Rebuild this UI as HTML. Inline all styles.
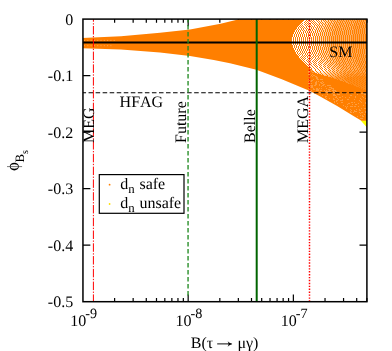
<!DOCTYPE html><html><head><meta charset="utf-8"><style>html,body{margin:0;padding:0;background:#fff;}svg{display:block;}text{font-family:"Liberation Serif",serif;fill:#000;font-kerning:none;text-rendering:geometricPrecision;}</style></head><body>
<svg width="392" height="351" viewBox="0 0 392 351">
<rect width="392" height="351" fill="#fff"/>
<defs><filter id="idf" x="0" y="0" width="392" height="351" filterUnits="userSpaceOnUse"><feOffset dx="0" dy="0"/></filter></defs>
<defs><clipPath id="pc"><rect x="82.95" y="19.1" width="283.95" height="282.59999999999997"/></clipPath></defs>
<path d="M114.62 301.7v-3.6M114.62 19.1v3.6M133.15 301.7v-3.6M133.15 19.1v3.6M146.29 301.7v-3.6M146.29 19.1v3.6M156.49 301.7v-3.6M156.49 19.1v3.6M164.82 301.7v-3.6M164.82 19.1v3.6M171.86 301.7v-3.6M171.86 19.1v3.6M177.96 301.7v-3.6M177.96 19.1v3.6M183.34 301.7v-3.6M183.34 19.1v3.6M188.16 301.7v-7.2M188.16 19.1v7.2M219.83 301.7v-3.6M219.83 19.1v3.6M238.35 301.7v-3.6M238.35 19.1v3.6M251.50 301.7v-3.6M251.50 19.1v3.6M261.69 301.7v-3.6M261.69 19.1v3.6M270.02 301.7v-3.6M270.02 19.1v3.6M277.07 301.7v-3.6M277.07 19.1v3.6M283.17 301.7v-3.6M283.17 19.1v3.6M288.55 301.7v-3.6M288.55 19.1v3.6M293.36 301.7v-7.2M293.36 19.1v7.2M325.03 301.7v-3.6M325.03 19.1v3.6M343.56 301.7v-3.6M343.56 19.1v3.6M356.70 301.7v-3.6M356.70 19.1v3.6M366.90 301.7v-3.6M366.90 19.1v3.6M82.95 75.62h7.4M366.9 75.62h-7.4M82.95 132.14h7.4M366.9 132.14h-7.4M82.95 188.66h7.4M366.9 188.66h-7.4M82.95 245.18h7.4M366.9 245.18h-7.4" stroke="#000" stroke-width="1.2" fill="none"/>
<g clip-path="url(#pc)">
<polygon points="360.5,120.2 367,120.2 367,127.6" fill="#ffff00"/>
<polygon points="82,38 121,36.3 160,32.7 190,29.5 220.6,23.8 239,19.2 367,19.2 367,120.8 361.5,120.8 355.1,117.1 336.7,105.7 318.4,95.4 310,91.0 281.8,79.3 256.4,69.8 230,63.2 213.8,59.9 190,55.9 160,52.4 121,49.6 82,48.2" fill="#ff7f00"/>
<path d="M356 76.5h1M357 76.5h1M359 76.5h1M360 76.5h1M362 76.5h1M364 76.5h1M365 76.5h1M347 77.5h1M349 77.5h1M350 77.5h1M352 77.5h1M353 77.5h1M355 77.5h1M356 77.5h1M358 77.5h1M359 77.5h1M361 77.5h1M363 77.5h1M364 77.5h1M366 77.5h1M345 78.5h1M346 78.5h1M348 78.5h1M349 78.5h1M351 78.5h1M352 78.5h1M354 78.5h1M355 78.5h1M357 78.5h1M358 78.5h1M360 78.5h1M362 78.5h1M363 78.5h1M365 78.5h1M366 78.5h1M346 79.5h1M347 79.5h1M349 79.5h1M350 79.5h1M352 79.5h1M353 79.5h1M355 79.5h1M356 79.5h1M358 79.5h1M359 79.5h1M361 79.5h1M362 79.5h1M364 79.5h1M365 79.5h1M347 80.5h1M348 80.5h1M349 80.5h1M351 80.5h1M352 80.5h1M354 80.5h1M355 80.5h1M357 80.5h1M358 80.5h1M360 80.5h1M361 80.5h1M363 80.5h1M364 80.5h1M366 80.5h1M347 81.5h1M349 81.5h1M350 81.5h1M352 81.5h1M353 81.5h1M355 81.5h1M356 81.5h1M358 81.5h1M359 81.5h1M361 81.5h1M362 81.5h1M364 81.5h1M365 81.5h1M348 82.5h1M350 82.5h1M351 82.5h1M352 82.5h1M354 82.5h1M355 82.5h1M357 82.5h1M358 82.5h1M360 82.5h1M361 82.5h1M363 82.5h1M364 82.5h1M366 82.5h1M349 83.5h1M350 83.5h1M352 83.5h1M353 83.5h1M355 83.5h1M356 83.5h1M358 83.5h1M359 83.5h1M360 83.5h1M362 83.5h1M363 83.5h1M365 83.5h1M366 83.5h1M351 84.5h1M353 84.5h1M354 84.5h1M355 84.5h1M357 84.5h1M358 84.5h1M360 84.5h1M361 84.5h1M363 84.5h1M364 84.5h1M366 84.5h1M354 85.5h1M355 85.5h1M356 85.5h1M358 85.5h1M359 85.5h1M360 85.5h1M362 85.5h1M363 85.5h1M365 85.5h1M366 85.5h1M356 86.5h1M357 86.5h1M358 86.5h1M360 86.5h1M361 86.5h1M363 86.5h1M364 86.5h1M365 86.5h1M359 87.5h1M361 87.5h1M362 87.5h1M363 87.5h1M365 87.5h1M366 87.5h1M361 88.5h1M363 88.5h1M364 88.5h1M365 88.5h1M363 89.5h1M365 89.5h1M366 89.5h1M366 90.5h1" stroke="#fff" stroke-opacity="0.1" stroke-width="1.0" fill="none" shape-rendering="crispEdges"/>
<path d="M357 73.5h1M359 73.5h1M360 73.5h1M362 73.5h1M364 73.5h1M365 73.5h1M346 74.5h1M348 74.5h1M349 74.5h1M351 74.5h1M353 74.5h1M354 74.5h1M356 74.5h1M358 74.5h1M359 74.5h1M361 74.5h1M362 74.5h1M364 74.5h1M366 74.5h1M345 75.5h1M347 75.5h1M349 75.5h1M350 75.5h1M352 75.5h1M353 75.5h1M355 75.5h1M357 75.5h1M358 75.5h1M360 75.5h1M361 75.5h1M363 75.5h1M365 75.5h1M366 75.5h1M342 76.5h1M343 76.5h1M345 76.5h1M346 76.5h1M348 76.5h1M349 76.5h1M351 76.5h1M352 76.5h1M354 76.5h1M337 77.5h1M338 77.5h1M340 77.5h1M341 77.5h1M343 77.5h1M344 77.5h1M346 77.5h1M334 78.5h1M335 78.5h1M336 78.5h1M338 78.5h1M339 78.5h1M341 78.5h1M342 78.5h1M343 78.5h1M337 79.5h1M339 79.5h1M340 79.5h1M341 79.5h1M343 79.5h1M344 79.5h1M340 80.5h1M341 80.5h1M342 80.5h1M344 80.5h1M345 80.5h1M343 81.5h1M345 81.5h1M346 81.5h1M346 82.5h1M347 82.5h1M348 83.5h1" stroke="#fff" stroke-opacity="0.2" stroke-width="1.0" fill="none" shape-rendering="crispEdges"/>
<path d="M357 19.5h1M359 19.5h1M361 19.5h1M362 19.5h1M364 19.5h1M366 19.5h1M356 20.5h1M358 20.5h1M360 20.5h1M362 20.5h1M364 20.5h1M366 20.5h1M356 21.5h1M358 21.5h1M360 21.5h1M362 21.5h1M364 21.5h1M365 21.5h1M356 22.5h1M358 22.5h1M359 22.5h1M361 22.5h1M363 22.5h1M365 22.5h1M355 23.5h1M357 23.5h1M359 23.5h1M361 23.5h1M363 23.5h1M365 23.5h1M355 24.5h1M357 24.5h1M359 24.5h1M361 24.5h1M363 24.5h1M364 24.5h1M366 24.5h1M355 25.5h1M357 25.5h1M358 25.5h1M360 25.5h1M362 25.5h1M364 25.5h1M366 25.5h1M354 26.5h1M356 26.5h1M358 26.5h1M360 26.5h1M362 26.5h1M364 26.5h1M366 26.5h1M354 27.5h1M356 27.5h1M358 27.5h1M360 27.5h1M362 27.5h1M364 27.5h1M366 27.5h1M354 28.5h1M356 28.5h1M358 28.5h1M360 28.5h1M361 28.5h1M363 28.5h1M365 28.5h1M353 29.5h1M355 29.5h1M357 29.5h1M359 29.5h1M361 29.5h1M363 29.5h1M365 29.5h1M353 30.5h1M355 30.5h1M357 30.5h1M359 30.5h1M361 30.5h1M363 30.5h1M365 30.5h1M353 31.5h1M355 31.5h1M357 31.5h1M359 31.5h1M361 31.5h1M363 31.5h1M365 31.5h1M353 32.5h1M355 32.5h1M357 32.5h1M359 32.5h1M361 32.5h1M363 32.5h1M365 32.5h1M353 33.5h1M355 33.5h1M357 33.5h1M359 33.5h1M361 33.5h1M363 33.5h1M365 33.5h1M352 34.5h1M354 34.5h1M356 34.5h1M358 34.5h1M360 34.5h1M362 34.5h1M364 34.5h1M366 34.5h1M352 35.5h1M354 35.5h1M356 35.5h1M358 35.5h1M360 35.5h1M362 35.5h1M364 35.5h1M366 35.5h1M352 36.5h1M354 36.5h1M356 36.5h1M358 36.5h1M360 36.5h1M362 36.5h1M364 36.5h1M366 36.5h1M352 37.5h1M354 37.5h1M356 37.5h1M358 37.5h1M360 37.5h1M362 37.5h1M364 37.5h1M366 37.5h1M352 38.5h1M354 38.5h1M356 38.5h1M358 38.5h1M360 38.5h1M362 38.5h1M364 38.5h1M366 38.5h1M352 39.5h1M354 39.5h1M356 39.5h1M358 39.5h1M360 39.5h1M362 39.5h1M364 39.5h1M366 39.5h1M352 40.5h1M354 40.5h1M356 40.5h1M358 40.5h1M360 40.5h1M362 40.5h1M364 40.5h1M366 40.5h1M352 41.5h1M354 41.5h1M356 41.5h1M358 41.5h1M360 41.5h1M362 41.5h1M364 41.5h1M366 41.5h1M352 42.5h1M354 42.5h1M356 42.5h1M358 42.5h1M360 42.5h1M362 42.5h1M364 42.5h1M366 42.5h1M352 43.5h1M354 43.5h1M356 43.5h1M358 43.5h1M360 43.5h1M362 43.5h1M364 43.5h1M366 43.5h1M352 44.5h1M354 44.5h1M356 44.5h1M358 44.5h1M360 44.5h1M362 44.5h1M364 44.5h1M366 44.5h1M352 45.5h1M354 45.5h1M356 45.5h1M358 45.5h1M360 45.5h1M362 45.5h1M364 45.5h1M366 45.5h1M352 46.5h1M354 46.5h1M356 46.5h1M358 46.5h1M360 46.5h1M362 46.5h1M364 46.5h1M366 46.5h1M352 47.5h1M354 47.5h1M356 47.5h1M358 47.5h1M360 47.5h1M362 47.5h1M364 47.5h1M366 47.5h1M353 48.5h1M355 48.5h1M357 48.5h1M358 48.5h1M360 48.5h1M362 48.5h1M364 48.5h1M366 48.5h1M353 49.5h1M355 49.5h1M357 49.5h1M359 49.5h1M361 49.5h1M363 49.5h1M365 49.5h1M353 50.5h1M355 50.5h1M357 50.5h1M359 50.5h1M361 50.5h1M363 50.5h1M365 50.5h1M353 51.5h1M355 51.5h1M357 51.5h1M359 51.5h1M361 51.5h1M363 51.5h1M365 51.5h1M353 52.5h1M355 52.5h1M357 52.5h1M359 52.5h1M361 52.5h1M363 52.5h1M365 52.5h1M354 53.5h1M356 53.5h1M357 53.5h1M359 53.5h1M361 53.5h1M363 53.5h1M365 53.5h1M354 54.5h1M356 54.5h1M358 54.5h1M360 54.5h1M362 54.5h1M364 54.5h1M365 54.5h1M354 55.5h1M356 55.5h1M358 55.5h1M360 55.5h1M362 55.5h1M364 55.5h1M366 55.5h1M354 56.5h1M356 56.5h1M358 56.5h1M360 56.5h1M362 56.5h1M364 56.5h1M366 56.5h1M355 57.5h1M357 57.5h1M359 57.5h1M360 57.5h1M362 57.5h1M364 57.5h1M366 57.5h1M355 58.5h1M357 58.5h1M359 58.5h1M361 58.5h1M363 58.5h1M365 58.5h1M366 58.5h1M355 59.5h1M357 59.5h1M359 59.5h1M361 59.5h1M363 59.5h1M365 59.5h1M356 60.5h1M358 60.5h1M360 60.5h1M361 60.5h1M363 60.5h1M365 60.5h1M356 61.5h1M358 61.5h1M360 61.5h1M362 61.5h1M364 61.5h1M366 61.5h1M357 62.5h1M358 62.5h1M360 62.5h1M362 62.5h1M364 62.5h1M366 62.5h1M357 63.5h1M359 63.5h1M361 63.5h1M363 63.5h1M364 63.5h1M366 63.5h1M357 64.5h1M359 64.5h1M361 64.5h1M363 64.5h1M365 64.5h1M358 65.5h1M360 65.5h1M362 65.5h1M363 65.5h1M365 65.5h1M358 66.5h1M360 66.5h1M362 66.5h1M364 66.5h1M366 66.5h1M359 67.5h1M361 67.5h1M362 67.5h1M364 67.5h1M366 67.5h1M359 68.5h1M361 68.5h1M363 68.5h1M365 68.5h1M366 68.5h1M360 69.5h1M362 69.5h1M363 69.5h1M365 69.5h1M355 70.5h1M357 70.5h1M359 70.5h1M360 70.5h1M362 70.5h1M364 70.5h1M366 70.5h1M347 71.5h1M349 71.5h1M351 71.5h1M352 71.5h1M354 71.5h1M356 71.5h1M357 71.5h1M359 71.5h1M361 71.5h1M363 71.5h1M364 71.5h1M366 71.5h1M345 72.5h1M346 72.5h1M348 72.5h1M350 72.5h1M351 72.5h1M353 72.5h1M355 72.5h1M356 72.5h1M358 72.5h1M360 72.5h1M361 72.5h1M363 72.5h1M365 72.5h1M342 73.5h1M344 73.5h1M346 73.5h1M347 73.5h1M349 73.5h1M350 73.5h1M352 73.5h1M354 73.5h1M355 73.5h1M342 74.5h1M343 74.5h1M345 74.5h1M338 75.5h1M339 75.5h1M341 75.5h1M342 75.5h1M344 75.5h1M334 76.5h1M336 76.5h1M337 76.5h1M339 76.5h1M340 76.5h1M331 77.5h1M333 77.5h1M334 77.5h1M335 77.5h1" stroke="#fff" stroke-opacity="0.3" stroke-width="1.0" fill="none" shape-rendering="crispEdges"/>
<path d="M339 19.5h1M340 19.5h1M342 19.5h1M344 19.5h1M346 19.5h1M348 19.5h1M350 19.5h1M351 19.5h1M353 19.5h1M355 19.5h1M338 20.5h1M340 20.5h1M342 20.5h1M344 20.5h1M345 20.5h1M347 20.5h1M349 20.5h1M351 20.5h1M353 20.5h1M355 20.5h1M338 21.5h1M339 21.5h1M341 21.5h1M343 21.5h1M345 21.5h1M347 21.5h1M349 21.5h1M350 21.5h1M352 21.5h1M354 21.5h1M337 22.5h1M339 22.5h1M341 22.5h1M343 22.5h1M344 22.5h1M346 22.5h1M348 22.5h1M350 22.5h1M352 22.5h1M354 22.5h1M337 23.5h1M338 23.5h1M340 23.5h1M342 23.5h1M344 23.5h1M346 23.5h1M348 23.5h1M350 23.5h1M352 23.5h1M353 23.5h1M336 24.5h1M338 24.5h1M340 24.5h1M342 24.5h1M344 24.5h1M345 24.5h1M347 24.5h1M349 24.5h1M351 24.5h1M353 24.5h1M336 25.5h1M338 25.5h1M339 25.5h1M341 25.5h1M343 25.5h1M345 25.5h1M347 25.5h1M349 25.5h1M351 25.5h1M353 25.5h1M335 26.5h1M337 26.5h1M339 26.5h1M341 26.5h1M343 26.5h1M345 26.5h1M347 26.5h1M349 26.5h1M350 26.5h1M352 26.5h1M335 27.5h1M337 27.5h1M339 27.5h1M341 27.5h1M342 27.5h1M344 27.5h1M346 27.5h1M348 27.5h1M350 27.5h1M352 27.5h1M334 28.5h1M336 28.5h1M338 28.5h1M340 28.5h1M342 28.5h1M344 28.5h1M346 28.5h1M348 28.5h1M350 28.5h1M352 28.5h1M334 29.5h1M336 29.5h1M338 29.5h1M340 29.5h1M342 29.5h1M344 29.5h1M346 29.5h1M348 29.5h1M350 29.5h1M352 29.5h1M334 30.5h1M336 30.5h1M338 30.5h1M340 30.5h1M342 30.5h1M343 30.5h1M345 30.5h1M347 30.5h1M349 30.5h1M351 30.5h1M333 31.5h1M335 31.5h1M337 31.5h1M339 31.5h1M341 31.5h1M343 31.5h1M345 31.5h1M347 31.5h1M349 31.5h1M351 31.5h1M333 32.5h1M335 32.5h1M337 32.5h1M339 32.5h1M341 32.5h1M343 32.5h1M345 32.5h1M347 32.5h1M349 32.5h1M351 32.5h1M333 33.5h1M335 33.5h1M337 33.5h1M339 33.5h1M341 33.5h1M343 33.5h1M345 33.5h1M347 33.5h1M349 33.5h1M351 33.5h1M333 34.5h1M335 34.5h1M337 34.5h1M339 34.5h1M341 34.5h1M343 34.5h1M345 34.5h1M347 34.5h1M349 34.5h1M351 34.5h1M333 35.5h1M334 35.5h1M336 35.5h1M338 35.5h1M340 35.5h1M342 35.5h1M344 35.5h1M346 35.5h1M348 35.5h1M350 35.5h1M332 36.5h1M334 36.5h1M336 36.5h1M338 36.5h1M340 36.5h1M342 36.5h1M344 36.5h1M346 36.5h1M348 36.5h1M350 36.5h1M332 37.5h1M334 37.5h1M336 37.5h1M338 37.5h1M340 37.5h1M342 37.5h1M344 37.5h1M346 37.5h1M348 37.5h1M350 37.5h1M332 38.5h1M334 38.5h1M336 38.5h1M338 38.5h1M340 38.5h1M342 38.5h1M344 38.5h1M346 38.5h1M348 38.5h1M350 38.5h1M332 39.5h1M334 39.5h1M336 39.5h1M338 39.5h1M340 39.5h1M342 39.5h1M344 39.5h1M346 39.5h1M348 39.5h1M350 39.5h1M332 40.5h1M334 40.5h1M336 40.5h1M338 40.5h1M340 40.5h1M342 40.5h1M344 40.5h1M346 40.5h1M348 40.5h1M350 40.5h1M332 41.5h1M334 41.5h1M336 41.5h1M338 41.5h1M340 41.5h1M342 41.5h1M344 41.5h1M346 41.5h1M348 41.5h1M350 41.5h1M332 42.5h1M334 42.5h1M336 42.5h1M338 42.5h1M340 42.5h1M342 42.5h1M344 42.5h1M346 42.5h1M348 42.5h1M350 42.5h1M332 43.5h1M334 43.5h1M336 43.5h1M338 43.5h1M340 43.5h1M342 43.5h1M344 43.5h1M346 43.5h1M348 43.5h1M350 43.5h1M332 44.5h1M334 44.5h1M336 44.5h1M338 44.5h1M340 44.5h1M342 44.5h1M344 44.5h1M346 44.5h1M348 44.5h1M350 44.5h1M332 45.5h1M334 45.5h1M336 45.5h1M338 45.5h1M340 45.5h1M342 45.5h1M344 45.5h1M346 45.5h1M348 45.5h1M350 45.5h1M332 46.5h1M334 46.5h1M336 46.5h1M338 46.5h1M340 46.5h1M342 46.5h1M344 46.5h1M346 46.5h1M348 46.5h1M350 46.5h1M333 47.5h1M335 47.5h1M337 47.5h1M339 47.5h1M341 47.5h1M342 47.5h1M344 47.5h1M346 47.5h1M348 47.5h1M350 47.5h1M333 48.5h1M335 48.5h1M337 48.5h1M339 48.5h1M341 48.5h1M343 48.5h1M345 48.5h1M347 48.5h1M349 48.5h1M351 48.5h1M333 49.5h1M335 49.5h1M337 49.5h1M339 49.5h1M341 49.5h1M343 49.5h1M345 49.5h1M347 49.5h1M349 49.5h1M351 49.5h1M333 50.5h1M335 50.5h1M337 50.5h1M339 50.5h1M341 50.5h1M343 50.5h1M345 50.5h1M347 50.5h1M349 50.5h1M351 50.5h1M334 51.5h1M336 51.5h1M337 51.5h1M339 51.5h1M341 51.5h1M343 51.5h1M345 51.5h1M347 51.5h1M349 51.5h1M351 51.5h1M334 52.5h1M336 52.5h1M338 52.5h1M340 52.5h1M342 52.5h1M344 52.5h1M346 52.5h1M347 52.5h1M349 52.5h1M351 52.5h1M334 53.5h1M336 53.5h1M338 53.5h1M340 53.5h1M342 53.5h1M344 53.5h1M346 53.5h1M348 53.5h1M350 53.5h1M352 53.5h1M335 54.5h1M336 54.5h1M338 54.5h1M340 54.5h1M342 54.5h1M344 54.5h1M346 54.5h1M348 54.5h1M350 54.5h1M352 54.5h1M335 55.5h1M337 55.5h1M339 55.5h1M341 55.5h1M343 55.5h1M345 55.5h1M346 55.5h1M348 55.5h1M350 55.5h1M352 55.5h1M335 56.5h1M337 56.5h1M339 56.5h1M341 56.5h1M343 56.5h1M345 56.5h1M347 56.5h1M349 56.5h1M351 56.5h1M352 56.5h1M336 57.5h1M338 57.5h1M340 57.5h1M341 57.5h1M343 57.5h1M345 57.5h1M347 57.5h1M349 57.5h1M351 57.5h1M353 57.5h1M336 58.5h1M338 58.5h1M340 58.5h1M342 58.5h1M344 58.5h1M346 58.5h1M348 58.5h1M349 58.5h1M351 58.5h1M353 58.5h1M337 59.5h1M339 59.5h1M340 59.5h1M342 59.5h1M344 59.5h1M346 59.5h1M348 59.5h1M350 59.5h1M352 59.5h1M354 59.5h1M337 60.5h1M339 60.5h1M341 60.5h1M343 60.5h1M345 60.5h1M346 60.5h1M348 60.5h1M350 60.5h1M352 60.5h1M354 60.5h1M338 61.5h1M340 61.5h1M341 61.5h1M343 61.5h1M345 61.5h1M347 61.5h1M349 61.5h1M351 61.5h1M352 61.5h1M354 61.5h1M338 62.5h1M340 62.5h1M342 62.5h1M344 62.5h1M346 62.5h1M347 62.5h1M349 62.5h1M351 62.5h1M353 62.5h1M355 62.5h1M339 63.5h1M341 63.5h1M342 63.5h1M344 63.5h1M346 63.5h1M348 63.5h1M350 63.5h1M352 63.5h1M353 63.5h1M355 63.5h1M340 64.5h1M341 64.5h1M343 64.5h1M345 64.5h1M347 64.5h1M348 64.5h1M350 64.5h1M352 64.5h1M354 64.5h1M356 64.5h1M340 65.5h1M342 65.5h1M344 65.5h1M345 65.5h1M347 65.5h1M349 65.5h1M351 65.5h1M352 65.5h1M354 65.5h1M356 65.5h1M341 66.5h1M342 66.5h1M344 66.5h1M346 66.5h1M348 66.5h1M349 66.5h1M351 66.5h1M353 66.5h1M355 66.5h1M357 66.5h1M341 67.5h1M343 67.5h1M345 67.5h1M347 67.5h1M348 67.5h1M350 67.5h1M352 67.5h1M354 67.5h1M355 67.5h1M357 67.5h1M342 68.5h1M344 68.5h1M345 68.5h1M347 68.5h1M349 68.5h1M351 68.5h1M352 68.5h1M354 68.5h1M356 68.5h1M358 68.5h1M343 69.5h1M344 69.5h1M346 69.5h1M348 69.5h1M349 69.5h1M351 69.5h1M353 69.5h1M355 69.5h1M356 69.5h1M358 69.5h1M342 70.5h1M343 70.5h1M345 70.5h1M347 70.5h1M348 70.5h1M350 70.5h1M352 70.5h1M353 70.5h1M341 71.5h1M342 71.5h1M344 71.5h1M346 71.5h1M340 72.5h1M342 72.5h1M343 72.5h1M338 73.5h1M339 73.5h1M341 73.5h1M336 74.5h1M337 74.5h1M339 74.5h1M340 74.5h1M332 75.5h1M334 75.5h1M335 75.5h1M336 75.5h1M328 76.5h1M329 76.5h1M330 76.5h1M332 76.5h1M333 76.5h1" stroke="#fff" stroke-opacity="0.4" stroke-width="1.0" fill="none" shape-rendering="crispEdges"/>
<path d="M335 19.5h1M337 19.5h1M335 20.5h1M336 20.5h1M334 21.5h1M336 21.5h1M333 22.5h1M335 22.5h1M333 23.5h1M335 23.5h1M332 24.5h1M334 24.5h1M332 25.5h1M334 25.5h1M331 26.5h1M333 26.5h1M331 27.5h1M333 27.5h1M331 28.5h1M333 28.5h1M330 29.5h1M332 29.5h1M330 30.5h1M332 30.5h1M330 31.5h1M331 31.5h1M329 32.5h1M331 32.5h1M329 33.5h1M331 33.5h1M329 34.5h1M331 34.5h1M329 35.5h1M331 35.5h1M328 36.5h1M330 36.5h1M328 37.5h1M330 37.5h1M328 38.5h1M330 38.5h1M328 39.5h1M330 39.5h1M328 40.5h1M330 40.5h1M328 41.5h1M330 41.5h1M328 42.5h1M330 42.5h1M328 43.5h1M330 43.5h1M328 44.5h1M330 44.5h1M328 45.5h1M330 45.5h1M328 46.5h1M330 46.5h1M329 47.5h1M331 47.5h1M329 48.5h1M331 48.5h1M329 49.5h1M331 49.5h1M329 50.5h1M331 50.5h1M330 51.5h1M332 51.5h1M330 52.5h1M332 52.5h1M330 53.5h1M332 53.5h1M331 54.5h1M333 54.5h1M331 55.5h1M333 55.5h1M332 56.5h1M333 56.5h1M332 57.5h1M334 57.5h1M333 58.5h1M334 58.5h1M333 59.5h1M335 59.5h1M334 60.5h1M335 60.5h1M334 61.5h1M336 61.5h1M335 62.5h1M337 62.5h1M335 63.5h1M337 63.5h1M336 64.5h1M338 64.5h1M337 65.5h1M338 65.5h1M337 66.5h1M339 66.5h1M338 67.5h1M340 67.5h1M339 68.5h1M340 68.5h1M339 69.5h1M341 69.5h1M339 70.5h1M340 70.5h1M338 71.5h1M339 71.5h1M335 72.5h1M337 72.5h1M338 72.5h1M333 73.5h1M335 73.5h1M336 73.5h1M331 74.5h1M333 74.5h1M334 74.5h1M324 75.5h1M325 75.5h1M326 75.5h1M328 75.5h1M329 75.5h1M331 75.5h1" stroke="#fff" stroke-opacity="0.5" stroke-width="1.0" fill="none" shape-rendering="crispEdges"/>
<path d="M332 19.5h1M333 19.5h1M331 20.5h1M333 20.5h1M330 21.5h1M332 21.5h1M330 22.5h1M332 22.5h1M329 23.5h1M331 23.5h1M329 24.5h1M331 24.5h1M328 25.5h1M330 25.5h1M328 26.5h1M330 26.5h1M327 27.5h1M329 27.5h1M327 28.5h1M329 28.5h1M326 29.5h1M328 29.5h1M326 30.5h1M328 30.5h1M326 31.5h1M328 31.5h1M325 32.5h1M327 32.5h1M325 33.5h1M327 33.5h1M325 34.5h1M327 34.5h1M325 35.5h1M327 35.5h1M324 36.5h1M326 36.5h1M324 37.5h1M326 37.5h1M324 38.5h1M326 38.5h1M324 39.5h1M326 39.5h1M324 40.5h1M326 40.5h1M324 41.5h1M326 41.5h1M324 42.5h1M326 42.5h1M324 43.5h1M326 43.5h1M324 44.5h1M326 44.5h1M324 45.5h1M326 45.5h1M324 46.5h1M326 46.5h1M325 47.5h1M327 47.5h1M325 48.5h1M327 48.5h1M325 49.5h1M327 49.5h1M325 50.5h1M327 50.5h1M326 51.5h1M328 51.5h1M326 52.5h1M328 52.5h1M327 53.5h1M328 53.5h1M327 54.5h1M329 54.5h1M327 55.5h1M329 55.5h1M328 56.5h1M330 56.5h1M328 57.5h1M330 57.5h1M329 58.5h1M331 58.5h1M329 59.5h1M331 59.5h1M330 60.5h1M332 60.5h1M331 61.5h1M332 61.5h1M331 62.5h1M333 62.5h1M332 63.5h1M334 63.5h1M333 64.5h1M334 64.5h1M333 65.5h1M335 65.5h1M334 66.5h1M336 66.5h1M335 67.5h1M336 67.5h1M335 68.5h1M337 68.5h1M336 69.5h1M338 69.5h1M335 70.5h1M337 70.5h1M335 71.5h1M336 71.5h1M332 72.5h1M334 72.5h1M329 73.5h1M330 73.5h1M332 73.5h1M321 74.5h1M323 74.5h1M324 74.5h1M325 74.5h1M327 74.5h1M328 74.5h1M330 74.5h1" stroke="#fff" stroke-opacity="0.6" stroke-width="1.0" fill="none" shape-rendering="crispEdges"/>
<path d="M328 19.5h1M330 19.5h1M327 20.5h1M329 20.5h1M327 21.5h1M329 21.5h1M326 22.5h1M328 22.5h1M326 23.5h1M327 23.5h1M325 24.5h1M327 24.5h1M324 25.5h1M326 25.5h1M324 26.5h1M326 26.5h1M323 27.5h1M325 27.5h1M323 28.5h1M325 28.5h1M323 29.5h1M324 29.5h1M322 30.5h1M324 30.5h1M322 31.5h1M324 31.5h1M321 32.5h1M323 32.5h1M321 33.5h1M323 33.5h1M321 34.5h1M323 34.5h1M321 35.5h1M323 35.5h1M320 36.5h1M322 36.5h1M320 37.5h1M322 37.5h1M320 38.5h1M322 38.5h1M320 39.5h1M322 39.5h1M320 40.5h1M322 40.5h1M320 41.5h1M322 41.5h1M320 42.5h1M322 42.5h1M320 43.5h1M322 43.5h1M320 44.5h1M322 44.5h1M320 45.5h1M322 45.5h1M321 46.5h1M322 46.5h1M321 47.5h1M323 47.5h1M321 48.5h1M323 48.5h1M321 49.5h1M323 49.5h1M322 50.5h1M324 50.5h1M322 51.5h1M324 51.5h1M322 52.5h1M324 52.5h1M323 53.5h1M325 53.5h1M323 54.5h1M325 54.5h1M324 55.5h1M326 55.5h1M324 56.5h1M326 56.5h1M325 57.5h1M327 57.5h1M325 58.5h1M327 58.5h1M326 59.5h1M328 59.5h1M326 60.5h1M328 60.5h1M327 61.5h1M329 61.5h1M328 62.5h1M329 62.5h1M328 63.5h1M330 63.5h1M329 64.5h1M331 64.5h1M330 65.5h1M332 65.5h1M331 66.5h1M332 66.5h1M331 67.5h1M333 67.5h1M332 68.5h1M334 68.5h1M333 69.5h1M335 69.5h1M332 70.5h1M334 70.5h1M330 71.5h1M331 71.5h1M333 71.5h1M328 72.5h1M329 72.5h1M331 72.5h1M317 73.5h1M319 73.5h1M320 73.5h1M322 73.5h1M323 73.5h1M324 73.5h1M326 73.5h1M327 73.5h1" stroke="#fff" stroke-opacity="0.7" stroke-width="1.0" fill="none" shape-rendering="crispEdges"/>
<path d="M325 19.5h1M326 19.5h1M324 20.5h1M326 20.5h1M323 21.5h1M325 21.5h1M323 22.5h1M324 22.5h1M322 23.5h1M324 23.5h1M321 24.5h1M323 24.5h1M321 25.5h1M323 25.5h1M320 26.5h1M322 26.5h1M320 27.5h1M322 27.5h1M319 28.5h1M321 28.5h1M319 29.5h1M321 29.5h1M318 30.5h1M320 30.5h1M318 31.5h1M320 31.5h1M318 32.5h1M319 32.5h1M317 33.5h1M319 33.5h1M317 34.5h1M319 34.5h1M317 35.5h1M319 35.5h1M316 36.5h1M318 36.5h1M316 37.5h1M318 37.5h1M316 38.5h1M318 38.5h1M316 39.5h1M318 39.5h1M316 40.5h1M318 40.5h1M316 41.5h1M318 41.5h1M316 42.5h1M318 42.5h1M316 43.5h1M318 43.5h1M316 44.5h1M318 44.5h1M316 45.5h1M318 45.5h1M317 46.5h1M319 46.5h1M317 47.5h1M319 47.5h1M317 48.5h1M319 48.5h1M317 49.5h1M319 49.5h1M318 50.5h1M320 50.5h1M318 51.5h1M320 51.5h1M318 52.5h1M320 52.5h1M319 53.5h1M321 53.5h1M319 54.5h1M321 54.5h1M320 55.5h1M322 55.5h1M320 56.5h1M322 56.5h1M321 57.5h1M323 57.5h1M322 58.5h1M323 58.5h1M322 59.5h1M324 59.5h1M323 60.5h1M325 60.5h1M324 61.5h1M325 61.5h1M324 62.5h1M326 62.5h1M325 63.5h1M327 63.5h1M326 64.5h1M327 64.5h1M326 65.5h1M328 65.5h1M327 66.5h1M329 66.5h1M328 67.5h1M330 67.5h1M329 68.5h1M330 68.5h1M330 69.5h1M331 69.5h1M329 70.5h1M331 70.5h1M327 71.5h1M328 71.5h1M315 72.5h1M316 72.5h1M318 72.5h1M319 72.5h1M321 72.5h1M322 72.5h1M323 72.5h1M325 72.5h1M326 72.5h1" stroke="#fff" stroke-opacity="0.8" stroke-width="1.0" fill="none" shape-rendering="crispEdges"/>
<path d="M321 19.5h1M323 19.5h1M320 20.5h1M322 20.5h1M320 21.5h1M322 21.5h1M319 22.5h1M321 22.5h1M318 23.5h1M320 23.5h1M318 24.5h1M320 24.5h1M317 25.5h1M319 25.5h1M316 26.5h1M318 26.5h1M316 27.5h1M318 27.5h1M315 28.5h1M317 28.5h1M315 29.5h1M317 29.5h1M314 30.5h1M316 30.5h1M314 31.5h1M316 31.5h1M314 32.5h1M316 32.5h1M313 33.5h1M315 33.5h1M313 34.5h1M315 34.5h1M313 35.5h1M315 35.5h1M312 36.5h1M314 36.5h1M312 37.5h1M314 37.5h1M312 38.5h1M314 38.5h1M312 39.5h1M314 39.5h1M312 40.5h1M314 40.5h1M312 41.5h1M314 41.5h1M312 42.5h1M314 42.5h1M312 43.5h1M314 43.5h1M312 44.5h1M314 44.5h1M312 45.5h1M314 45.5h1M313 46.5h1M315 46.5h1M313 47.5h1M315 47.5h1M313 48.5h1M315 48.5h1M313 49.5h1M315 49.5h1M314 50.5h1M316 50.5h1M314 51.5h1M316 51.5h1M315 52.5h1M317 52.5h1M315 53.5h1M317 53.5h1M316 54.5h1M317 54.5h1M316 55.5h1M318 55.5h1M317 56.5h1M319 56.5h1M317 57.5h1M319 57.5h1M318 58.5h1M320 58.5h1M319 59.5h1M320 59.5h1M319 60.5h1M321 60.5h1M320 61.5h1M322 61.5h1M321 62.5h1M323 62.5h1M322 63.5h1M323 63.5h1M322 64.5h1M324 64.5h1M323 65.5h1M325 65.5h1M324 66.5h1M326 66.5h1M325 67.5h1M326 67.5h1M326 68.5h1M327 68.5h1M327 69.5h1M328 69.5h1M326 70.5h1M327 70.5h1M314 71.5h1M315 71.5h1M317 71.5h1M318 71.5h1M319 71.5h1M321 71.5h1M322 71.5h1M324 71.5h1M325 71.5h1" stroke="#fff" stroke-opacity="0.9" stroke-width="1.0" fill="none" shape-rendering="crispEdges"/>
<path d="M305 19.5h1M306 19.5h1M308 19.5h1M310 19.5h1M311 19.5h1M313 19.5h1M314 19.5h1M316 19.5h1M318 19.5h1M320 19.5h1M304 20.5h1M305 20.5h1M307 20.5h1M309 20.5h1M310 20.5h1M312 20.5h1M314 20.5h1M315 20.5h1M317 20.5h1M319 20.5h1M303 21.5h1M304 21.5h1M306 21.5h1M308 21.5h1M309 21.5h1M311 21.5h1M313 21.5h1M315 21.5h1M316 21.5h1M318 21.5h1M302 22.5h1M303 22.5h1M305 22.5h1M307 22.5h1M309 22.5h1M310 22.5h1M312 22.5h1M314 22.5h1M316 22.5h1M317 22.5h1M301 23.5h1M303 23.5h1M304 23.5h1M306 23.5h1M308 23.5h1M309 23.5h1M311 23.5h1M313 23.5h1M315 23.5h1M317 23.5h1M300 24.5h1M302 24.5h1M303 24.5h1M305 24.5h1M307 24.5h1M309 24.5h1M311 24.5h1M312 24.5h1M314 24.5h1M316 24.5h1M299 25.5h1M301 25.5h1M303 25.5h1M304 25.5h1M306 25.5h1M308 25.5h1M310 25.5h1M312 25.5h1M313 25.5h1M315 25.5h1M298 26.5h1M300 26.5h1M302 26.5h1M304 26.5h1M305 26.5h1M307 26.5h1M309 26.5h1M311 26.5h1M313 26.5h1M315 26.5h1M297 27.5h1M299 27.5h1M301 27.5h1M303 27.5h1M305 27.5h1M307 27.5h1M308 27.5h1M310 27.5h1M312 27.5h1M314 27.5h1M297 28.5h1M299 28.5h1M300 28.5h1M302 28.5h1M304 28.5h1M306 28.5h1M308 28.5h1M310 28.5h1M312 28.5h1M314 28.5h1M296 29.5h1M298 29.5h1M300 29.5h1M302 29.5h1M304 29.5h1M305 29.5h1M307 29.5h1M309 29.5h1M311 29.5h1M313 29.5h1M295 30.5h1M297 30.5h1M299 30.5h1M301 30.5h1M303 30.5h1M305 30.5h1M307 30.5h1M309 30.5h1M311 30.5h1M313 30.5h1M295 31.5h1M297 31.5h1M299 31.5h1M301 31.5h1M302 31.5h1M304 31.5h1M306 31.5h1M308 31.5h1M310 31.5h1M312 31.5h1M294 32.5h1M296 32.5h1M298 32.5h1M300 32.5h1M302 32.5h1M304 32.5h1M306 32.5h1M308 32.5h1M310 32.5h1M312 32.5h1M294 33.5h1M296 33.5h1M298 33.5h1M300 33.5h1M302 33.5h1M304 33.5h1M305 33.5h1M307 33.5h1M309 33.5h1M311 33.5h1M293 34.5h1M295 34.5h1M297 34.5h1M299 34.5h1M301 34.5h1M303 34.5h1M305 34.5h1M307 34.5h1M309 34.5h1M311 34.5h1M293 35.5h1M295 35.5h1M297 35.5h1M299 35.5h1M301 35.5h1M303 35.5h1M305 35.5h1M307 35.5h1M309 35.5h1M311 35.5h1M293 36.5h1M295 36.5h1M297 36.5h1M299 36.5h1M301 36.5h1M303 36.5h1M305 36.5h1M307 36.5h1M309 36.5h1M311 36.5h1M292 37.5h1M294 37.5h1M296 37.5h1M298 37.5h1M300 37.5h1M302 37.5h1M304 37.5h1M306 37.5h1M308 37.5h1M310 37.5h1M292 38.5h1M294 38.5h1M296 38.5h1M298 38.5h1M300 38.5h1M302 38.5h1M304 38.5h1M306 38.5h1M308 38.5h1M310 38.5h1M292 39.5h1M294 39.5h1M296 39.5h1M298 39.5h1M300 39.5h1M302 39.5h1M304 39.5h1M306 39.5h1M308 39.5h1M310 39.5h1M292 40.5h1M294 40.5h1M296 40.5h1M298 40.5h1M300 40.5h1M302 40.5h1M304 40.5h1M306 40.5h1M308 40.5h1M310 40.5h1M292 41.5h1M294 41.5h1M296 41.5h1M298 41.5h1M300 41.5h1M302 41.5h1M304 41.5h1M306 41.5h1M308 41.5h1M310 41.5h1M292 42.5h1M294 42.5h1M296 42.5h1M298 42.5h1M300 42.5h1M302 42.5h1M304 42.5h1M306 42.5h1M308 42.5h1M310 42.5h1M292 43.5h1M294 43.5h1M296 43.5h1M298 43.5h1M300 43.5h1M302 43.5h1M304 43.5h1M306 43.5h1M308 43.5h1M310 43.5h1M292 44.5h1M294 44.5h1M296 44.5h1M298 44.5h1M300 44.5h1M302 44.5h1M304 44.5h1M306 44.5h1M308 44.5h1M310 44.5h1M293 45.5h1M295 45.5h1M297 45.5h1M298 45.5h1M300 45.5h1M302 45.5h1M304 45.5h1M306 45.5h1M308 45.5h1M310 45.5h1M293 46.5h1M295 46.5h1M297 46.5h1M299 46.5h1M301 46.5h1M303 46.5h1M305 46.5h1M307 46.5h1M309 46.5h1M311 46.5h1M293 47.5h1M295 47.5h1M297 47.5h1M299 47.5h1M301 47.5h1M303 47.5h1M305 47.5h1M307 47.5h1M309 47.5h1M311 47.5h1M294 48.5h1M296 48.5h1M297 48.5h1M299 48.5h1M301 48.5h1M303 48.5h1M305 48.5h1M307 48.5h1M309 48.5h1M311 48.5h1M294 49.5h1M296 49.5h1M298 49.5h1M300 49.5h1M302 49.5h1M304 49.5h1M306 49.5h1M308 49.5h1M310 49.5h1M311 49.5h1M295 50.5h1M296 50.5h1M298 50.5h1M300 50.5h1M302 50.5h1M304 50.5h1M306 50.5h1M308 50.5h1M310 50.5h1M312 50.5h1M295 51.5h1M297 51.5h1M299 51.5h1M301 51.5h1M303 51.5h1M305 51.5h1M307 51.5h1M308 51.5h1M310 51.5h1M312 51.5h1M296 52.5h1M298 52.5h1M299 52.5h1M301 52.5h1M303 52.5h1M305 52.5h1M307 52.5h1M309 52.5h1M311 52.5h1M313 52.5h1M296 53.5h1M298 53.5h1M300 53.5h1M302 53.5h1M304 53.5h1M306 53.5h1M308 53.5h1M309 53.5h1M311 53.5h1M313 53.5h1M297 54.5h1M299 54.5h1M301 54.5h1M303 54.5h1M304 54.5h1M306 54.5h1M308 54.5h1M310 54.5h1M312 54.5h1M314 54.5h1M298 55.5h1M300 55.5h1M301 55.5h1M303 55.5h1M305 55.5h1M307 55.5h1M309 55.5h1M311 55.5h1M312 55.5h1M314 55.5h1M299 56.5h1M300 56.5h1M302 56.5h1M304 56.5h1M306 56.5h1M308 56.5h1M309 56.5h1M311 56.5h1M313 56.5h1M315 56.5h1M299 57.5h1M301 57.5h1M303 57.5h1M305 57.5h1M306 57.5h1M308 57.5h1M310 57.5h1M312 57.5h1M314 57.5h1M316 57.5h1M300 58.5h1M302 58.5h1M304 58.5h1M306 58.5h1M307 58.5h1M309 58.5h1M311 58.5h1M313 58.5h1M314 58.5h1M316 58.5h1M301 59.5h1M303 59.5h1M305 59.5h1M306 59.5h1M308 59.5h1M310 59.5h1M312 59.5h1M313 59.5h1M315 59.5h1M317 59.5h1M302 60.5h1M304 60.5h1M305 60.5h1M307 60.5h1M309 60.5h1M311 60.5h1M312 60.5h1M314 60.5h1M316 60.5h1M318 60.5h1M303 61.5h1M305 61.5h1M306 61.5h1M308 61.5h1M310 61.5h1M311 61.5h1M313 61.5h1M315 61.5h1M317 61.5h1M318 61.5h1M304 62.5h1M306 62.5h1M307 62.5h1M309 62.5h1M311 62.5h1M312 62.5h1M314 62.5h1M316 62.5h1M317 62.5h1M319 62.5h1M305 63.5h1M307 63.5h1M308 63.5h1M310 63.5h1M312 63.5h1M313 63.5h1M315 63.5h1M317 63.5h1M318 63.5h1M320 63.5h1M306 64.5h1M308 64.5h1M309 64.5h1M311 64.5h1M312 64.5h1M314 64.5h1M316 64.5h1M317 64.5h1M319 64.5h1M321 64.5h1M307 65.5h1M309 65.5h1M310 65.5h1M312 65.5h1M313 65.5h1M315 65.5h1M317 65.5h1M318 65.5h1M320 65.5h1M322 65.5h1M308 66.5h1M310 66.5h1M311 66.5h1M313 66.5h1M314 66.5h1M316 66.5h1M318 66.5h1M319 66.5h1M321 66.5h1M322 66.5h1M309 67.5h1M311 67.5h1M312 67.5h1M314 67.5h1M315 67.5h1M317 67.5h1M318 67.5h1M320 67.5h1M322 67.5h1M323 67.5h1M310 68.5h1M312 68.5h1M313 68.5h1M315 68.5h1M316 68.5h1M318 68.5h1M319 68.5h1M321 68.5h1M323 68.5h1M324 68.5h1M312 69.5h1M313 69.5h1M314 69.5h1M316 69.5h1M317 69.5h1M319 69.5h1M320 69.5h1M322 69.5h1M323 69.5h1M325 69.5h1M313 70.5h1M314 70.5h1M316 70.5h1M317 70.5h1M318 70.5h1M320 70.5h1M321 70.5h1M323 70.5h1M324 70.5h1" stroke="#fff" stroke-opacity="1.0" stroke-width="1.0" fill="none" shape-rendering="crispEdges"/>
<path d="M309 70.5h2M310 70.5h2M311 70.5h2M308 71.5h2M309 71.5h1M311 71.5h1M308 72.5h2M309 72.5h1M312 72.5h2M309 73.5h1M310 73.5h1M308 74.5h2M312 74.5h1M311 75.5h1M313 75.5h2M309 76.5h2M312 76.5h1M315 76.5h2M316 77.5h2M316 78.5h1M317 78.5h1M308 79.5h1M313 79.5h1M317 79.5h1M318 79.5h1M320 79.5h2M321 79.5h1M322 79.5h1M311 80.5h2M308 81.5h1M310 81.5h2M311 81.5h1M316 81.5h1M318 81.5h1M322 81.5h1M309 82.5h1M315 82.5h2M320 82.5h2M323 82.5h1M308 83.5h2M311 83.5h1M315 83.5h2M321 83.5h2M309 84.5h1M315 84.5h2M319 84.5h1M323 84.5h2M310 85.5h1M311 85.5h2M314 85.5h2M319 85.5h1M322 85.5h2M327 85.5h1M328 85.5h2M329 85.5h2M311 86.5h2M321 86.5h1M325 86.5h1M310 87.5h2M311 87.5h1M312 87.5h1M329 87.5h2M331 87.5h1M308 88.5h1M313 88.5h1M316 88.5h2M319 88.5h1M321 88.5h1M326 88.5h1M331 88.5h1M332 88.5h2M313 89.5h1M314 89.5h1M316 89.5h1M317 89.5h1M318 89.5h1M328 89.5h2M329 89.5h1M330 89.5h1M333 89.5h1M311 90.5h1M316 90.5h1M317 90.5h2M318 90.5h1M320 90.5h1M321 90.5h1M324 90.5h1M326 90.5h1M329 90.5h1M332 90.5h1M333 90.5h1M334 90.5h2M325 91.5h1M326 91.5h2M328 91.5h1M329 91.5h2M333 91.5h1M335 91.5h1M336 91.5h1M315 92.5h1M319 92.5h1M320 92.5h1M321 92.5h1M322 92.5h1M324 92.5h2M326 92.5h1M327 92.5h2M328 92.5h1M329 92.5h2M330 92.5h2M333 92.5h2M331 93.5h2M337 93.5h1M342 93.5h1M346 93.5h1M351 93.5h2M361 93.5h2M363 93.5h2M365 93.5h1M327 94.5h1M333 94.5h2M337 94.5h1M338 94.5h2M357 94.5h1M364 94.5h1M365 94.5h1M322 95.5h1M333 95.5h1M334 95.5h2M350 95.5h2M325 96.5h2M336 96.5h1M342 96.5h1M355 96.5h1M362 96.5h1M325 97.5h1M335 97.5h2M339 97.5h1M340 97.5h1M345 97.5h1M349 97.5h1M355 97.5h1M363 97.5h1M326 98.5h1M329 98.5h1M333 98.5h1M337 98.5h1M360 98.5h1M365 98.5h1M333 99.5h2M338 99.5h1M342 99.5h1M347 99.5h2M354 99.5h1M361 99.5h1M336 100.5h2M340 100.5h1M341 100.5h2M359 100.5h1M334 101.5h1M336 101.5h1M360 101.5h1M334 102.5h1M341 102.5h2M351 102.5h2M354 102.5h1M361 102.5h1M365 102.5h1M337 103.5h1M348 103.5h2M358 103.5h1M365 103.5h2M347 104.5h1M352 104.5h1M355 104.5h2M343 105.5h1M363 105.5h1M345 106.5h1M347 106.5h1M350 106.5h1M351 106.5h2M354 106.5h2M358 106.5h1M346 107.5h1M346 108.5h1M361 108.5h1M364 108.5h2M350 109.5h1M356 109.5h1M359 109.5h1M351 110.5h1M354 110.5h1M359 110.5h2M350 111.5h1M354 111.5h1M355 111.5h2M365 111.5h2M350 112.5h2M353 112.5h1M359 112.5h1M361 112.5h2M365 112.5h2M360 113.5h1M364 114.5h1M360 115.5h1M362 115.5h1M357 116.5h1M362 116.5h2M360 118.5h2M361 118.5h2" stroke="#fff" stroke-opacity="0.24" stroke-width="1" fill="none" shape-rendering="crispEdges"/>
<path d="M84 40.4H116M84 45.7H112" stroke="#ffd9b0" stroke-opacity="0.45" stroke-width="1" stroke-dasharray="1 2.3" fill="none"/>
</g>
<line x1="82.95" x2="366.9" y1="42.6" y2="42.6" stroke="#000" stroke-width="2"/>
<line x1="82.95" x2="366.9" y1="92.7" y2="92.7" stroke="#000" stroke-width="1.05" stroke-dasharray="4.55 2.49" stroke-dashoffset="1.43"/>
<line x1="93.4" x2="93.4" y1="301.7" y2="19.1" stroke="#ff0000" stroke-width="1" stroke-dasharray="8.5 1.49 1.3 1.49" stroke-dashoffset="1.2"/>
<line x1="188.05" x2="188.05" y1="295.6" y2="19.1" stroke="#228b22" stroke-width="1.35" stroke-dasharray="4.5 2.5"/>
<line x1="256.7" x2="256.7" y1="301.7" y2="19.1" stroke="#006400" stroke-width="2"/>
<line x1="309.5" x2="309.5" y1="301.7" y2="19.1" stroke="#ff0000" stroke-width="1.5" stroke-dasharray="1.4 1.52"/>
<rect x="82.95" y="19.1" width="283.95" height="282.59999999999997" fill="none" stroke="#000" stroke-width="1.5"/>
<g filter="url(#idf)">
<text x="73.2" y="24.50" font-size="16" text-anchor="end">0</text>
<text x="73.2" y="81.02" font-size="16" text-anchor="end">-0.1</text>
<text x="73.2" y="137.54" font-size="16" text-anchor="end">-0.2</text>
<text x="73.2" y="194.06" font-size="16" text-anchor="end">-0.3</text>
<text x="73.2" y="250.58" font-size="16" text-anchor="end">-0.4</text>
<text x="73.2" y="307.10" font-size="16" text-anchor="end">-0.5</text>
<text x="70.35" y="325.5" font-size="16">10<tspan font-size="14.2" dy="-7.5" dx="-1.1">-9</tspan></text>
<text x="175.56" y="325.5" font-size="16">10<tspan font-size="14.2" dy="-7.5" dx="-1.1">-8</tspan></text>
<text x="280.76" y="325.5" font-size="16">10<tspan font-size="14.2" dy="-7.5" dx="-1.1">-7</tspan></text>
<text x="190.8" y="348.3" font-size="16">B(τ</text>
<text x="237.4" y="348.3" font-size="16">μγ)</text>
<path d="M217.2 343.9H231.6" stroke="#000" stroke-width="0.95" fill="none"/>
<path d="M232.4 343.9C230.2 343.3 228.6 342.2 227.6 340.9C228.2 342.3 228.6 343.1 228.6 343.9C228.6 344.7 228.2 345.5 227.6 346.9C228.6 345.6 230.2 344.5 232.4 343.9Z" fill="#000"/>
<path fill-rule="evenodd" d="M9.75 166.55a4.55 3.85 0 1 0 9.1 0a4.55 3.85 0 1 0 -9.1 0ZM10.55 166.55a3.75 2.25 0 1 0 7.5 0a3.75 2.25 0 1 0 -7.5 0Z" fill="#000"/>
<path d="M7 166.6H22.1" stroke="#333" stroke-width="0.65" fill="none"/>
<text transform="translate(23.6,162.6) rotate(-90)" font-size="12.8">B<tspan font-size="10.2" dy="4.6">s</tspan></text>
<text transform="translate(93.9,143.0) rotate(-90)" font-size="16">MEG</text>
<text transform="translate(186.2,143.0) rotate(-90)" font-size="16">Future</text>
<text transform="translate(254.7,143.0) rotate(-90)" font-size="16">Belle</text>
<text transform="translate(307.6,143.0) rotate(-90)" font-size="16">MEGA</text>
<text x="119.6" y="106.8" font-size="16">HFAG</text>
<text x="329.3" y="56.8" font-size="16">SM</text>
</g>
<rect x="99.3" y="174.6" width="84.7" height="38.7" fill="#fff" stroke="#000" stroke-width="1.2"/>
<circle cx="109.6" cy="184.7" r="0.9" fill="#ff7f00"/>
<circle cx="109.6" cy="204" r="0.9" fill="#ffe000"/>
<g filter="url(#idf)">
<text x="120.2" y="188.6" font-size="16">d<tspan font-size="12.8" dy="4.6">n</tspan><tspan dy="-4.6" dx="0.8"> safe</tspan></text>
<text x="120.2" y="207.7" font-size="16">d<tspan font-size="12.8" dy="4.6">n</tspan><tspan dy="-4.6" dx="0.8"> unsafe</tspan></text>
</g>
</svg></body></html>
